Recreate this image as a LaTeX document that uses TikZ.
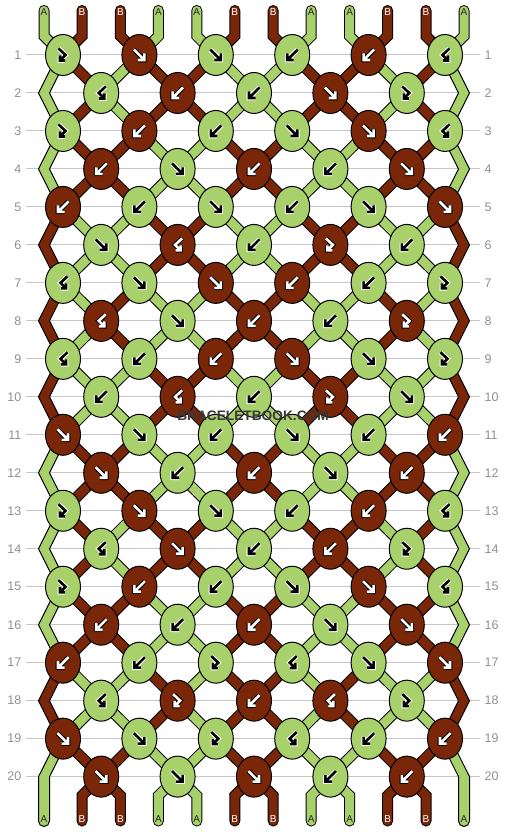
\documentclass[tikz,border=0pt]{standalone}
\usepackage{fontspec}
\setmainfont{Liberation Sans}
\usetikzlibrary{shapes.geometric}
\definecolor{cA}{RGB}{168,209,108}
\definecolor{cB}{RGB}{122,38,9}
\definecolor{numgray}{RGB}{145,145,145}
\definecolor{linegray}{RGB}{198,198,198}
\definecolor{wmgray}{RGB}{55,55,55}
\definecolor{labA}{RGB}{35,35,35}

\newcommand\defS[2]{\expandafter\def\csname S#1\endcsname{#2}}
\newcommand\defK[2]{\expandafter\def\csname K#1\endcsname{#2}}
\newcommand\Yof[1]{\pgfmathsetmacro\yv{55+37.98*(#1-1)}}
\newcommand\Xodd[1]{\pgfmathsetmacro\xv{63+76.4*floor((#1)/2)}}
\newcommand\Xeven[1]{\ifnum#1=0\relax\def\xv{44}\else\ifnum#1=11\relax\def\xv{464}\else\pgfmathsetmacro\xv{101.2+76.4*floor((#1-1)/2)}\fi\fi}

\newcommand\Apf{(-5.5,-5.5) -- (5,5) (5,-1.5) -- (5,5) -- (-1.5,5)}
\newcommand\Apb{(5.5,-5.5) -- (-5,5) (-5,-1.5) -- (-5,5) -- (1.5,5)}
\newcommand\Apfb{(-4.5,-6.5) -- (2.5,0) -- (-3,5.5) (-3,0.5) -- (-3,5.5) -- (2,5.5)}
\newcommand\Apbf{(4.5,-6.5) -- (-2.5,0) -- (3,5.5) (3,0.5) -- (3,5.5) -- (-2,5.5)}

% string colours after each row (position 0..11)
\defS{0}{A,B,B,A,A,B,B,A,A,B,B,A}
\defS{1}{A,B,A,B,B,A,A,B,B,A,B,A}
\defS{2}{A,B,A,B,B,A,A,B,B,A,B,A}
\defS{3}{A,B,B,A,A,B,B,A,A,B,B,A}
\defS{4}{A,B,B,A,A,B,B,A,A,B,B,A}
\defS{5}{B,A,A,B,B,A,A,B,B,A,A,B}
\defS{6}{B,A,A,B,B,A,A,B,B,A,A,B}
\defS{7}{B,A,B,A,A,B,B,A,A,B,A,B}
\defS{8}{B,A,B,A,A,B,B,A,A,B,A,B}
\defS{9}{B,A,A,B,B,A,A,B,B,A,A,B}
\defS{10}{B,A,A,B,B,A,A,B,B,A,A,B}
\defS{11}{A,B,B,A,A,B,B,A,A,B,B,A}
\defS{12}{A,B,B,A,A,B,B,A,A,B,B,A}
\defS{13}{A,B,A,B,B,A,A,B,B,A,B,A}
\defS{14}{A,B,A,B,B,A,A,B,B,A,B,A}
\defS{15}{A,B,B,A,A,B,B,A,A,B,B,A}
\defS{16}{A,B,B,A,A,B,B,A,A,B,B,A}
\defS{17}{B,A,A,B,A,B,B,A,B,A,A,B}
\defS{18}{B,A,A,B,A,B,B,A,B,A,A,B}
\defS{19}{A,B,B,A,A,B,B,A,A,B,B,A}
\defS{20}{A,B,B,A,A,B,B,A,A,B,B,A}

% knots: colour / type
\defK{1}{A/fb,B/f,A/f,A/b,B/b,A/bf}
\defK{2}{A/bf,B/b,A/b,B/f,A/fb}
\defK{3}{A/fb,B/b,A/b,A/f,B/f,A/bf}
\defK{4}{B/b,A/f,B/b,A/b,B/f}
\defK{5}{B/b,A/b,A/f,A/b,A/f,B/f}
\defK{6}{A/f,B/bf,A/b,B/fb,A/b}
\defK{7}{A/bf,A/f,B/f,B/b,A/b,A/fb}
\defK{8}{B/bf,A/f,B/b,A/b,B/fb}
\defK{9}{A/bf,A/b,B/b,B/f,A/f,A/fb}
\defK{10}{A/b,B/bf,A/b,B/fb,A/f}
\defK{11}{B/f,A/f,A/b,A/f,A/b,B/b}
\defK{12}{B/f,A/b,B/b,A/f,B/b}
\defK{13}{A/fb,B/f,A/f,A/b,B/b,A/bf}
\defK{14}{A/bf,B/f,A/b,B/b,A/fb}
\defK{15}{A/fb,B/b,A/b,A/f,B/f,A/bf}
\defK{16}{B/b,A/b,B/b,A/f,B/f}
\defK{17}{B/b,A/b,A/fb,A/bf,A/f,B/f}
\defK{18}{A/bf,B/fb,B/b,B/bf,A/fb}
\defK{19}{B/f,A/f,A/fb,A/bf,A/b,B/b}
\defK{20}{B/f,A/f,B/f,A/b,B/b}

\newcommand\drawedge[4]{% p, r, ya, yb
  \pgfmathsetmacro\yc{#3+2*37.98}%
  \ifnum#1=0\relax
    \ifnum#2=19\relax
      \edef\cmd{\noexpand\filldraw[edgestrip, fill=\scol] (57.5,#3) -- (38.5,#4) -- (38.5,821) arc[start angle=180,end angle=0,radius=5.5] -- (49.5,#4) -- (68.5,#3) -- cycle;}%
    \else
      \edef\cmd{\noexpand\filldraw[edgestrip, fill=\scol] (57.5,#3) -- (38.5,#4) -- (57.5,\yc) -- (68.5,\yc) -- (49.5,#4) -- (68.5,#3) -- cycle;}%
    \fi
  \else
    \ifnum#2=19\relax
      \edef\cmd{\noexpand\filldraw[edgestrip, fill=\scol] (450.5,#3) -- (469.5,#4) -- (469.5,821) arc[start angle=0,end angle=180,radius=5.5] -- (458.5,#4) -- (439.5,#3) -- cycle;}%
    \else
      \edef\cmd{\noexpand\filldraw[edgestrip, fill=\scol] (450.5,#3) -- (469.5,#4) -- (450.5,\yc) -- (439.5,\yc) -- (458.5,#4) -- (439.5,#3) -- cycle;}%
    \fi
  \fi
  \cmd}

\newcommand\drawstrings[1]{%
\foreach \r in {0,...,20}{%
  \expandafter\let\expandafter\stt\csname S\r\endcsname
  \foreach \sc [count=\p from 0] in \stt {%
    \if\sc A\def\scol{cA}\else\def\scol{cB}\fi
    \def\dodraw{1}\def\pbpart{}%
    \pgfmathsetmacro\tx{63+76.4*floor(\p/2)+ifthenelse(mod(\p,2)==0,-19,19)}%
    \ifnum\r=0\relax
      \Xodd{\p}%
      \edef\pa{(\tx,10.5)}\edef\pbpart{-- (\tx,36)}\edef\pc{(\xv,55)}%
    \else
      \Yof{\r}\let\ya\yv
      \pgfmathsetmacro\yb{\ya+37.98}%
      \ifodd\r\relax
        \Xodd{\p}\let\xa\xv \Xeven{\p}\let\xb\xv
        \edef\pa{(\xa,\ya)}\edef\pc{(\xb,\yb)}%
        \def\isedge{0}%
        \ifnum\p=0\relax\def\isedge{1}\fi
        \ifnum\p=11\relax\def\isedge{1}\fi
        \ifnum\isedge=1\relax
          \def\dodraw{0}%
          \ifnum#1=2\relax\drawedge{\p}{\r}{\ya}{\yb}\fi
        \fi
      \else
        \Xeven{\p}\let\xa\xv
        \edef\pa{(\xa,\ya)}%
        \ifnum\p=0\relax\def\dodraw{0}\fi
        \ifnum\p=11\relax\def\dodraw{0}\fi
        \ifnum\r=20\relax
          \pgfmathsetmacro\yc{\ya+19}%
          \edef\pbpart{-- (\tx,\yc)}\edef\pc{(\tx,821)}%
        \else
          \Xodd{\p}\edef\pc{(\xv,\yb)}%
        \fi
      \fi
    \fi
    \ifnum\dodraw=1\relax
      \ifnum#1=1\relax
        \edef\cmd{\noexpand\draw[strandout] \pa\space\pbpart\space -- \pc;}%
      \else
        \edef\cmd{\noexpand\draw[strandin, draw=\scol] \pa\space\pbpart\space -- \pc;}%
      \fi
      \cmd
    \fi
  }%
}}

\begin{document}
\begin{tikzpicture}[x=1pt,y=-1pt,
  strandout/.style={draw=black, line width=11pt, line cap=round, line join=miter},
  strandin/.style={line width=9pt, line cap=round, line join=miter},
  edgestrip/.style={draw=black, line width=1pt, line join=miter},
  knot/.style={ellipse, draw=black, line width=1pt, minimum width=35pt, minimum height=41pt, inner sep=0pt},
  arrowout/.style={line width=4.6pt, line cap=square, line join=miter},
  arrowin/.style={line width=2.6pt, line cap=square, line join=miter},
  gridline/.style={draw=linegray, line width=1pt},
  numlab/.style={text=numgray, font=\fontsize{12.5}{12.5}\selectfont, inner sep=0pt},
  strlab/.style={font=\fontsize{10}{10}\selectfont, inner sep=0pt},
  wm/.style={font=\fontsize{13.7}{14}\selectfont\bfseries, inner sep=0pt}]
\useasboundingbox (0,0) rectangle (506,832);
\fill[white] (0,0) rectangle (506,832);

% row lines and numbers
\foreach \r in {1,...,20}{%
  \Yof{\r}%
  \draw[gridline] (26,\yv) -- (480,\yv);
  \node[numlab, anchor=east] (nl-\r) at (21.5,\yv) {\r};
  \node[numlab, anchor=west] (nr-\r) at (484.5,\yv) {\r};
}

% strings: outlines, then fills
\drawstrings{1}
\drawstrings{2}

% knots and arrows
\foreach \r in {1,...,20}{%
  \expandafter\let\expandafter\kl\csname K\r\endcsname
  \Yof{\r}\let\ky\yv
  \foreach \kc/\kt [count=\kn from 0] in \kl {%
    \ifodd\r\relax \pgfmathsetmacro\kx{63+76.4*\kn}\else\pgfmathsetmacro\kx{101.2+76.4*\kn}\fi
    \if\kc A\def\kfill{cA}\def\amain{black}\def\aout{white}\else\def\kfill{cB}\def\amain{white}\def\aout{black}\fi
    \node[knot, fill=\kfill] (k-\r-\kn) at (\kx,\ky) {};
    \edef\cmd{\noexpand\draw[arrowout, draw=\aout, shift={(\kx,\ky)}] \csname Ap\kt\endcsname; \noexpand\draw[arrowin, draw=\amain, shift={(\kx,\ky)}] \csname Ap\kt\endcsname;}%
    \cmd
  }%
}

% string end labels
\foreach \lab [count=\p from 0] in {A,B,B,A,A,B,B,A,A,B,B,A}{%
  \pgfmathsetmacro\tx{63+76.4*floor(\p/2)+ifthenelse(mod(\p,2)==0,-19,19)}%
  \if\lab A\def\lc{labA}\else\def\lc{white}\fi
  \node[strlab, text=\lc] (lt-\p) at (\tx,12) {\lab};
  \node[strlab, text=\lc] (lb-\p) at (\tx,819.5) {\lab};
}

% watermark
\node[wm, text=wmgray] (wm) at (253,416) {BRACELETBOOK.COM};
\end{tikzpicture}
\end{document}
